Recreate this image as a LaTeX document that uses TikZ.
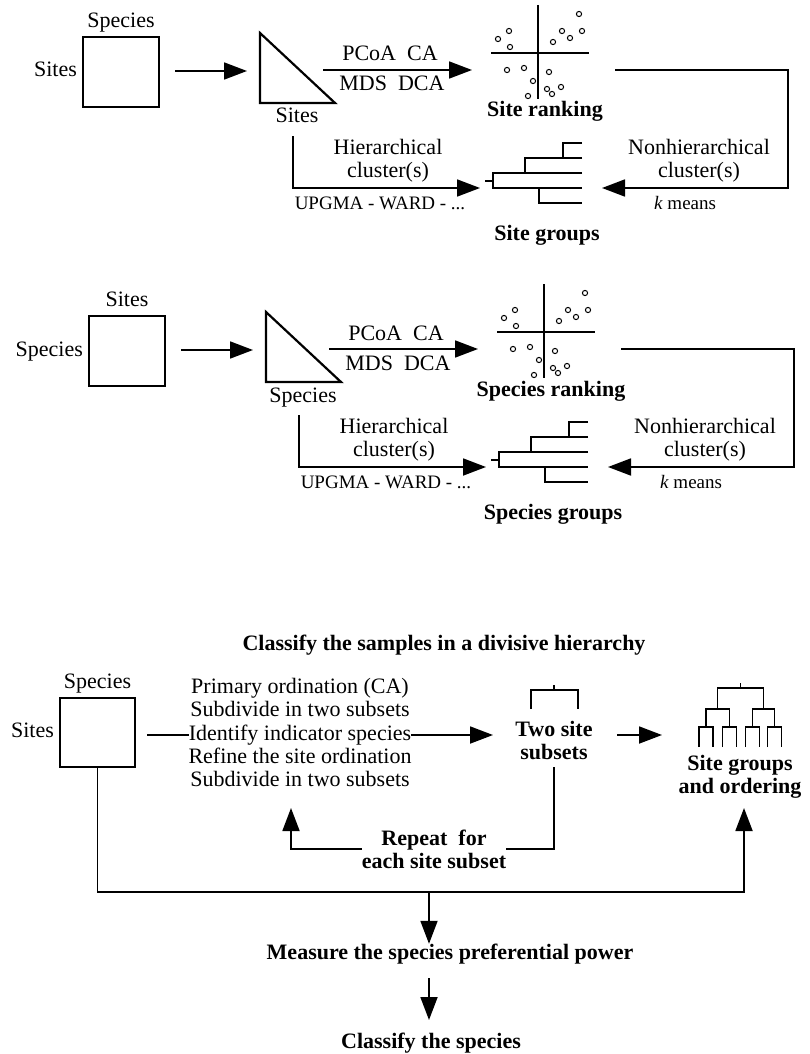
\documentclass[tikz,border=0pt]{standalone}
\usepackage{fontspec}
\setmainfont{Liberation Serif}
\usetikzlibrary{arrows.meta,positioning}
\tikzset{
  lbl/.style={font=\fontsize{22}{23}\selectfont, inner sep=0pt, text height=15pt, text depth=5pt},
  two/.style={font=\fontsize{22}{23}\selectfont, inner sep=0pt, align=center},
  hd/.style={lbl, font=\fontsize{22}{23}\selectfont\bfseries},
  hdtwo/.style={two, font=\fontsize{22}{23}\selectfont\bfseries},
  sml/.style={font=\fontsize{19}{20}\selectfont, inner sep=0pt, text height=13pt, text depth=4pt},
  conn/.style={line width=1.8pt},
  arr/.style={conn, -{Triangle[length=23pt,width=17pt]}},
  tree/.style={line width=1.2pt},
  mat/.style={draw, conn, minimum width=76pt, minimum height=70pt, inner sep=0pt}
}
\begin{document}
\begin{tikzpicture}[x=1pt,y=-1pt]
\useasboundingbox (0,0) rectangle (809,1054);
% two ordination / clustering panels: sites, then species
\foreach \p/\dx/\dy/\ta/\tb/\tc in {1/0/0/Species/Sites/Site, 2/6/279/Sites/Species/Species}{
  \begin{scope}[shift={(\dx,\dy)}]
    \node[mat] (mat\p) at (121,72) {};
    \node[lbl, above=3pt of mat\p] (top\p) {\ta};
    \node[lbl, left=5pt of mat\p] (lft\p) {\tb};
    \coordinate (m1\p) at (175,71);
    \coordinate (m2\p) at (247,71);
    \draw[arr] (m1\p) -- (m2\p);
    % distance matrix
    \coordinate (t1\p) at (260,33);
    \coordinate (t2\p) at (260,103);
    \coordinate (t3\p) at (335,103);
    \draw[line width=2.2pt] (t1\p) -- (t2\p) -- (t3\p) -- cycle;
    \node[lbl] (bot\p) at (297,118) {\tb};
    % ordination
    \coordinate (o1\p) at (323,70);
    \coordinate (o2\p) at (472,70);
    \draw[arr] (o1\p) -- (o2\p);
    \node[lbl] (pcoa\p) at (390,56) {PCoA\ \ CA};
    \node[lbl] (mds\p) at (392,86) {MDS\ \ DCA};
    \draw[tree] (538,5) -- (538,99);
    \draw[tree] (491,53) -- (589,53);
    \foreach \x/\y in {498/39,509/31,510/47,562/31,553/42,570/38,579/14,582/31,
                       507/70,524/68,549/72,533/81,547/89,552/94,561/87,528/96}
      \draw[line width=1pt] (\x,\y) circle (2.6pt);
    \node[hd] (rank\p) at (545,112) {\tc\ ranking};
    % k-means
    \coordinate (r1\p) at (615,70);
    \coordinate (r2\p) at (602,188);
    \draw[arr] (r1\p) -| (788,188) -- (r2\p);
    \node[two] (nonh\p) at (699,161) {Nonhierarchical\\cluster(s)};
    \node[sml] (km\p) at (685,205) {\textit{k} means};
    % dendrogram
    \draw[tree] (582,143) -- (563,143) -- (563,158);
    \draw[tree] (582,158) -- (525,158) -- (525,173);
    \draw[tree] (582,173) -- (493,173) -- (493,188) -- (582,188);
    \draw[tree] (485,181) -- (493,181);
    \draw[tree] (539,188) -- (539,203) -- (582,203);
    \node[hd] (grp\p) at (547,235) {\tc\ groups};
    % hierarchical
    \coordinate (h1\p) at (293,136);
    \coordinate (h2\p) at (480,188);
    \draw[arr] (h1\p) |- (h2\p);
    \node[two] (hier\p) at (388,161) {Hierarchical\\cluster(s)};
    \node[sml] (upg\p) at (380,205) {UPGMA - WARD - ...};
  \end{scope}
}
% divisive classification
\node[hd] (title) at (444,645) {Classify the samples in a divisive hierarchy};
\node[mat, minimum width=75pt, minimum height=69pt] (mat3) at (97.5,732.5) {};
\node[lbl, above=3pt of mat3] (top3) {Species};
\node[lbl, left=5pt of mat3] (lft3) {Sites};
\node[lbl] (step1) at (300,688) {Primary ordination (CA)};
\node[lbl] (step2) at (300,711) {Subdivide in two subsets};
\node[lbl] (step3) at (300,735) {Identify indicator species};
\node[lbl] (step4) at (300,758) {Refine the site ordination};
\node[lbl] (step5) at (300,781) {Subdivide in two subsets};
\coordinate (tail) at (147,735);
\coordinate (tip3) at (493,735);
\draw[conn] (tail) -- (step3.west);
\draw[arr] (step3.east) -- (tip3);
% two subsets
\draw[tree] (531,709) -- (531,690) -- (578,690) -- (578,709);
\draw[tree] (554,690) -- (554,685);
\node[hdtwo] (twoss) at (554,740) {Two site\\subsets};
\coordinate (c1) at (617,735);
\coordinate (c2) at (662,735);
\draw[arr] (c1) -- (c2);
% final tree
\draw[tree] (740.6,683) -- (740.6,688);
\draw[tree] (717.75,709) -- (717.75,688) -- (763.5,688) -- (763.5,709);
\foreach \c/\w in {717.75/11.75,763.5/11}
  \draw[tree] ({\c-\w},727) -- ({\c-\w},709) -- ({\c+\w},709) -- ({\c+\w},727);
\foreach \c in {706,729.5,752.5,774.5}
  \draw[tree] ({\c-7},747) -- ({\c-7},727) -- ({\c+7},727) -- ({\c+7},747);
\node[hdtwo] (sg) at (740,777) {Site groups\\and ordering};
% repeat loop
\node[hdtwo] (rep) at (434,849) {Repeat\ \ for\\each site subset};
\coordinate (up1) at (291,808);
\draw[conn] ([yshift=-8pt]twoss.south) |- (rep.east);
\draw[arr] (rep.west) -| (up1);
% species
\coordinate (corner) at (744,892);
\coordinate (sgin) at (744,808);
\draw[arr] (mat3.south) |- (corner) -- (sgin);
\node[hd] (meas) at (450,954) {Measure the species preferential power};
\node[hd] (cls) at (431,1043) {Classify the species};
\coordinate (drop) at (429,892);
\coordinate (d3) at (429,978);
\coordinate (d4) at (429,1020);
\draw[arr] (drop) -- (drop |- meas.north);
\draw[arr] (d3) -- (d4);
\end{tikzpicture}
\end{document}
